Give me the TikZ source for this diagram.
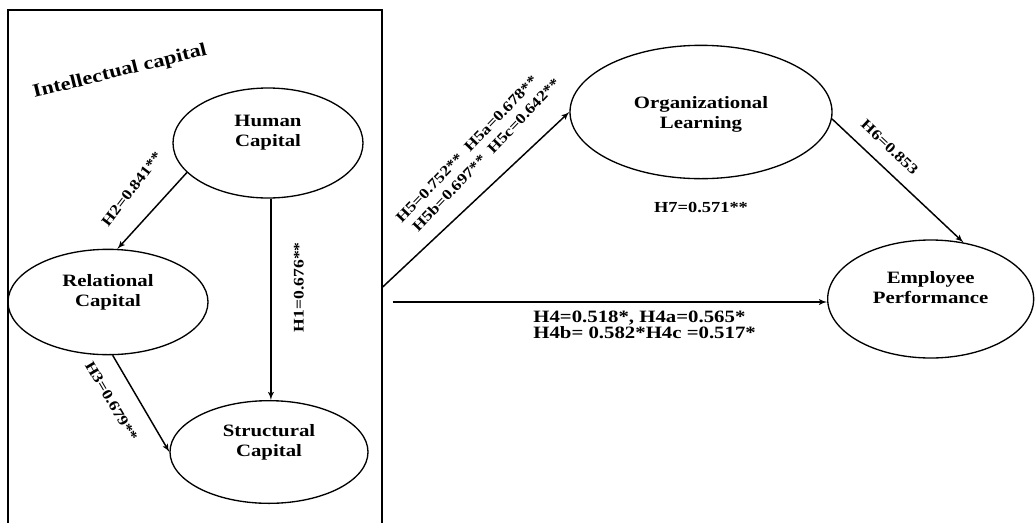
\documentclass[tikz,border=0pt]{standalone}
\usepackage{fontspec}
\setmainfont{Liberation Serif}[FakeStretch=1.2]
\usetikzlibrary{shapes,arrows}
\tikzstyle{line} = [draw, line width=1.1pt, -latex']
\tikzstyle{cap_ell} = [ellipse, draw, line width=1pt, inner sep=0pt, align=center, text depth=18pt, font=\fontsize{13}{15}\selectfont\bfseries]
\tikzstyle{ic_frame} = [rectangle, draw, line width=1pt, minimum width=280.5pt, minimum height=388.5pt, inner sep=0pt]
\tikzstyle{lbl} = [font=\fontsize{11}{13}\selectfont\bfseries, inner sep=2pt]

\begin{document}
\begin{tikzpicture}
		\useasboundingbox (0,0) rectangle (776.25pt,-391.5pt);
		
		\node[ic_frame] (ic_box) at (146.25pt,-201.75pt) {};
		\node[lbl, font=\fontsize{14}{15}\selectfont\bfseries, rotate=14] (ic_title) at (90pt,-54pt) {Intellectual capital};
		
		\node[cap_ell, minimum width=142.5pt, minimum height=82.5pt] (human_cap) at (201pt,-107.25pt) {Human\\Capital};
		\node[cap_ell, minimum width=150pt, minimum height=79pt, below of=human_cap, node distance=119.25pt, xshift=-120pt] (rel_cap) {Relational\\Capital};
		\node[cap_ell, minimum width=148.5pt, minimum height=77pt, below of=human_cap, node distance=231.75pt, xshift=0.75pt] (struct_cap) {Structural\\Capital};
		
		\path [line] (human_cap.200) to node [lbl, sloped, above=16pt, pos=0.47, rotate=5] {H2=0.841**} (rel_cap.80);
		\path [line] (human_cap.-87) to node [lbl, pos=0.44, xshift=21pt, rotate=90] {H1=0.676**} (human_cap.-87 |- struct_cap.north);
		\path [line] (rel_cap.-85) to node [lbl, sloped, below=12pt, pos=0.35] {H3=0.679**} (struct_cap.west);
		
		
		\node[cap_ell, text depth=0pt, minimum width=196.5pt, minimum height=100pt, right of=human_cap, node distance=324.75pt, yshift=23.25pt] (org_learn) {Organizational\\Learning};
		\node[lbl, font=\fontsize{11.5}{12}\selectfont\bfseries, below of=org_learn, node distance=72pt] (h7_lbl) {H7=0.571**};
		
		\node[cap_ell, minimum width=154.5pt, minimum height=88.5pt, right of=human_cap, node distance=497pt, yshift=-117pt] (emp_perf) {Employee\\Performance};
		
		\coordinate (ic_out1) at ([yshift=-13.5pt]ic_box.east);
		\coordinate (ic_out2) at ([xshift=7.5pt, yshift=-24.75pt]ic_box.east);
		
		\path [line] (ic_out1) to node [lbl, sloped, above=26pt, pos=0.61, rotate=3] {H5=0.752**~~H5a=0.678**} node [lbl, sloped, above=13pt, pos=0.65, rotate=3] {H5b=0.697**~~H5c=0.642**} (org_learn.west);
		\path [line] (ic_out2) to node [lbl, font=\fontsize{13}{11}\selectfont\bfseries, below=4pt, pos=0.58, align=left] {H4=0.518*, H4a=0.565*\\H4b= 0.582*H4c =0.517*} (ic_out2 -| emp_perf.west);
		\path [line] (org_learn.-3) to node [lbl, sloped, above=8pt, pos=0.34] {H6=0.853} (emp_perf.60);
\end{tikzpicture}
\end{document}
